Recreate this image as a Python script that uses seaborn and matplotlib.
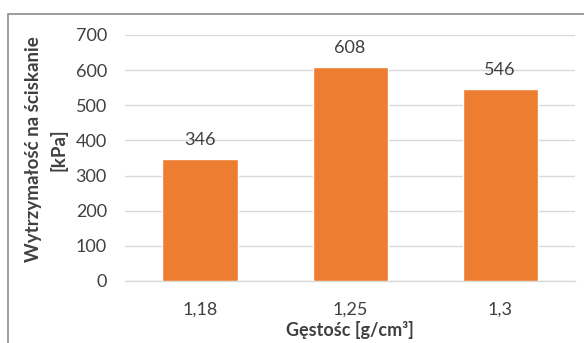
import matplotlib
matplotlib.use("Agg")
import matplotlib.pyplot as plt
import seaborn as sns
import pandas as pd
from matplotlib.patches import Rectangle

density_labels = ["1,18", "1,25", "1,3"]
strength_kpa = [346, 608, 546]
y_ticks = [0, 100, 200, 300, 400, 500, 600, 700]

sns.set_theme(style="white")
plt.rcParams["font.family"] = ["Lato", "DejaVu Sans"]

text_color = "#404040"
bar_color = "#ED7D31"
grid_color = "#D9D9D9"

df = pd.DataFrame({"density": density_labels, "strength": strength_kpa})

fig = plt.figure(figsize=(5.84, 3.43), dpi=100)
ax = fig.add_axes([0.214, 0.181, 0.771, 0.717])

sns.barplot(data=df, x="density", y="strength", color=bar_color,
            saturation=1, width=0.5, ax=ax, zorder=3)

ax.set_ylim(0, 700)
ax.set_xlim(-0.5, 2.5)
ax.set_yticks(y_ticks)
ax.yaxis.grid(True, color=grid_color, linewidth=1, zorder=0)
ax.xaxis.grid(False)
for s in ["top", "right", "left"]:
    ax.spines[s].set_visible(False)
ax.spines["bottom"].set_color(grid_color)
ax.spines["bottom"].set_linewidth(1)
ax.tick_params(axis="both", length=0, labelsize=13, labelcolor=text_color)
ax.tick_params(axis="y", pad=13)
ax.tick_params(axis="x", pad=15)

for container in ax.containers:
    ax.bar_label(container, labels=[str(v) for v in strength_kpa],
                 padding=8, fontsize=13, color=text_color)

ax.set_xlabel("Gęstośc [g/cm³]", fontsize=13, fontweight="bold",
              color=text_color, labelpad=2)
ax.set_ylabel("Wytrzymałość na ściskanie\n[kPa]", fontsize=13.5,
              fontweight="bold", color=text_color, linespacing=1.5)
ax.yaxis.set_label_coords(-0.128, 0.535)

# chart frame
fig.patches.append(Rectangle((8 / 584, -0.1), 1.2, 1 - 14 / 343 + 0.1,
                             transform=fig.transFigure, fill=False,
                             edgecolor="#8C8C8C", linewidth=1.2,
                             clip_on=False))

fig.savefig("out.png", dpi=100)
